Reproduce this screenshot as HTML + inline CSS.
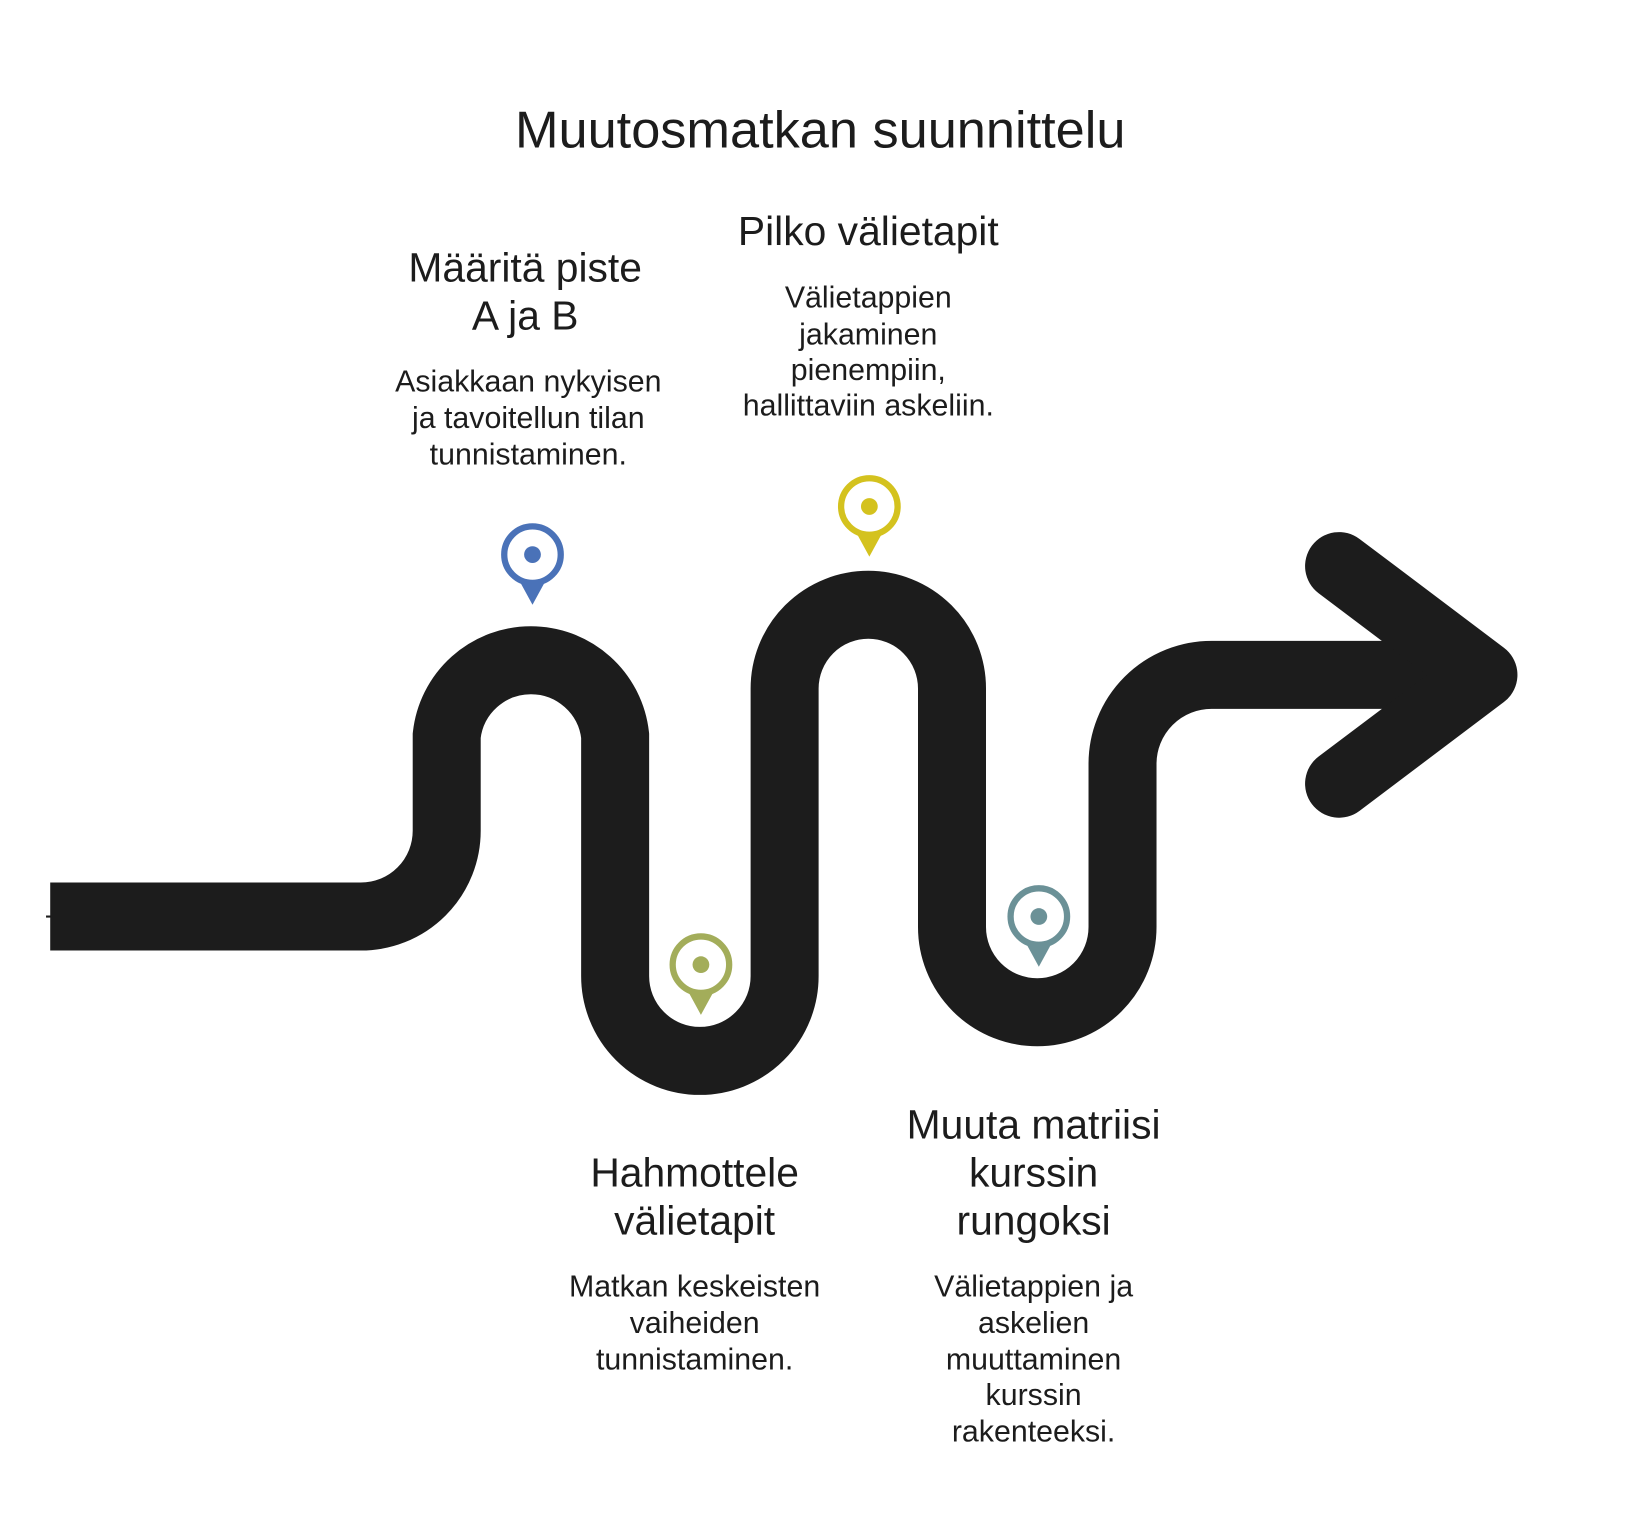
<!DOCTYPE html>
<html><head><meta charset="utf-8"><style>
html,body{margin:0;padding:0;background:#fff}
svg{display:block}
text{font-family:"Liberation Sans",sans-serif;fill:#1c1c1c;text-anchor:middle}
.h{font-size:39px}
.b{font-size:29px}
</style></head><body>
<svg width="1632" height="1536" viewBox="0 0 1560 1468" xmlns="http://www.w3.org/2000/svg">
<rect width="1560" height="1468" fill="#fff"/>
<text x="784" y="141" style="font-size:50px">Muutosmatkan suunnittelu</text>

<path d="M48 876 H345 A82 82 0 0 0 427 794 V703 A81 81 0 0 1 588 703 V933 A81 81 0 0 0 750 933 V658 A80 80 0 0 1 910 658 V886 A81.5 81.5 0 0 0 1073 886 V730 A85 85 0 0 1 1158 645 H1410" fill="none" stroke="#1c1c1c" stroke-width="65"/>
<path d="M1280 541 L1418 645 L1280 749" fill="none" stroke="#1c1c1c" stroke-width="65" stroke-linecap="round" stroke-linejoin="round"/>
<line x1="44" y1="876" x2="50" y2="876" stroke="#1c1c1c" stroke-width="2"/>

<g>
<path d="M497 556 L509 578 L521 556 Z" fill="#4a72b8"/>
<circle cx="509" cy="530" r="27" fill="#fff" stroke="#4a72b8" stroke-width="6"/>
<circle cx="509" cy="530" r="8" fill="#4a72b8"/>
</g>
<g>
<path d="M658 948 L670 970 L682 948 Z" fill="#a3ad5a"/>
<circle cx="670" cy="922" r="27" fill="#fff" stroke="#a3ad5a" stroke-width="6"/>
<circle cx="670" cy="922" r="8" fill="#a3ad5a"/>
</g>
<g>
<path d="M819 510 L831 532 L843 510 Z" fill="#d4c21e"/>
<circle cx="831" cy="484" r="27" fill="#fff" stroke="#d4c21e" stroke-width="6"/>
<circle cx="831" cy="484" r="8" fill="#d4c21e"/>
</g>
<g>
<path d="M981 902 L993 924 L1005 902 Z" fill="#6b9197"/>
<circle cx="993" cy="876" r="27" fill="#fff" stroke="#6b9197" stroke-width="6"/>
<circle cx="993" cy="876" r="8" fill="#6b9197"/>
</g>

<text class="h" x="502" y="269">Määritä piste</text>
<text class="h" x="502" y="315">A ja B</text>
<text class="b" x="505" y="374">Asiakkaan nykyisen</text>
<text class="b" x="505" y="409">ja tavoitellun tilan</text>
<text class="b" x="505" y="444">tunnistaminen.</text>

<text class="h" x="830" y="234">Pilko välietapit</text>
<text class="b" x="830" y="294">Välietappien</text>
<text class="b" x="830" y="329">jakaminen</text>
<text class="b" x="830" y="363">pienempiin,</text>
<text class="b" x="830" y="397">hallittaviin askeliin.</text>

<text class="h" x="664" y="1134">Hahmottele</text>
<text class="h" x="664" y="1180">välietapit</text>
<text class="b" x="664" y="1239">Matkan keskeisten</text>
<text class="b" x="664" y="1274">vaiheiden</text>
<text class="b" x="664" y="1309">tunnistaminen.</text>

<text class="h" x="988" y="1088">Muuta matriisi</text>
<text class="h" x="988" y="1134">kurssin</text>
<text class="h" x="988" y="1180">rungoksi</text>
<text class="b" x="988" y="1239">Välietappien ja</text>
<text class="b" x="988" y="1274">askelien</text>
<text class="b" x="988" y="1309">muuttaminen</text>
<text class="b" x="988" y="1343">kurssin</text>
<text class="b" x="988" y="1378">rakenteeksi.</text>
</svg>
</body></html>
